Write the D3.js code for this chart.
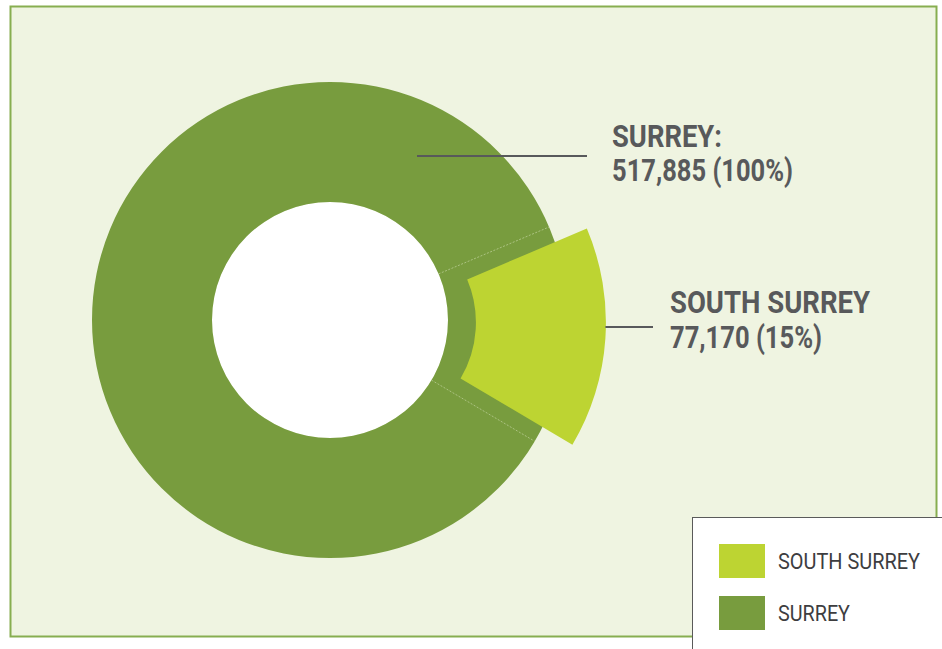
<!DOCTYPE html>
<html>
<head>
<meta charset="utf-8">
<script src="https://cdn.jsdelivr.net/npm/d3@7"></script>
<style>
  html, body { margin: 0; padding: 0; background: #ffffff; }
  svg { display: block; }
  .cond { font-family: "Roboto", "Liberation Sans", sans-serif; }
</style>
</head>
<body>
<svg id="chart" width="942" height="649"></svg>
<script>
// ---- data ----
const categories = ["SOUTH SURREY", "SURREY"];
const populations = [77170, 517885];
const shareLabels = ["15%", "100%"];
const legendLabels = ["SOUTH SURREY", "SURREY"];

const colors = { "SOUTH SURREY": "#BDD432", "SURREY": "#789C3E" };
const textColor = "#58595B";

const svg = d3.select("#chart");

function fitWidth(sel, w) {
  sel.attr("textLength", w).attr("lengthAdjust", "spacingAndGlyphs");
}

// frame
svg.append("rect").attr("x", 10.5).attr("y", 6.5).attr("width", 926).attr("height", 630)
  .attr("fill", "#EFF4E1").attr("stroke", "#87AE50").attr("stroke-width", 2);

const cx = 330, cy = 320;
const rIn = 118, rOut = 238;
const g = svg.append("g").attr("transform", `translate(${cx},${cy})`);

const total = populations[1];
const southVal = populations[0];
const pieData = [
  { name: categories[0], value: southVal },
  { name: "REST", value: total - southVal }
];
const startDeg = 67;
const pie = d3.pie().value(d => d.value).sort(null)
  .startAngle(startDeg * Math.PI / 180)
  .endAngle((startDeg + 360) * Math.PI / 180);
const arcs = pie(pieData);

// white hole
g.append("circle").attr("r", rIn).attr("fill", "#ffffff");

// full Surrey ring (100%)
const ringArc = d3.arc().innerRadius(rIn).outerRadius(rOut);
g.append("path")
  .attr("d", ringArc({ startAngle: 0, endAngle: 2 * Math.PI }))
  .attr("fill", colors["SURREY"]);

// faint separator lines at South Surrey slice boundaries
const south = arcs[0];
[south.startAngle, south.endAngle].forEach(a => {
  const s = Math.sin(a), c = -Math.cos(a);
  g.append("line")
    .attr("x1", s * rIn).attr("y1", c * rIn)
    .attr("x2", s * rOut).attr("y2", c * rOut)
    .attr("stroke", "#C9D9A8").attr("stroke-width", 0.8)
    .attr("stroke-dasharray", "2,1.5").attr("opacity", 0.8);
});

// exploded South Surrey slice
const mid = (south.startAngle + south.endAngle) / 2;
const explode = 36;
const ex = Math.sin(mid) * explode, ey = -Math.cos(mid) * explode;
const southArc = d3.arc().innerRadius(110).outerRadius(240);
g.append("path")
  .attr("d", southArc(south))
  .attr("transform", `translate(${ex},${ey})`)
  .attr("fill", colors["SOUTH SURREY"]);

// labels
const fmt = d3.format(",");
const lab = svg.append("g").attr("class", "cond")
  .attr("fill", textColor).attr("font-weight", "bold").attr("font-size", 31);

svg.append("line").attr("x1", 417).attr("x2", 587).attr("y1", 156).attr("y2", 156)
  .attr("stroke", textColor).attr("stroke-width", 2.2);
fitWidth(lab.append("text").attr("x", 612).attr("y", 147).text(categories[1] + ":"), 110);
fitWidth(lab.append("text").attr("x", 612).attr("y", 181).text(`${fmt(populations[1])} (${shareLabels[1]})`), 181);

const outerX = 330 + ex + Math.sin(mid) * 240;
svg.append("line").attr("x1", outerX).attr("x2", 653).attr("y1", 327).attr("y2", 327)
  .attr("stroke", textColor).attr("stroke-width", 2.2);
fitWidth(lab.append("text").attr("x", 670).attr("y", 313).text(categories[0]), 200);
fitWidth(lab.append("text").attr("x", 670).attr("y", 348).text(`${fmt(populations[0])} (${shareLabels[0]})`), 152);

// legend
const legendWidths = [142, 72];
const leg = svg.append("g");
leg.append("rect").attr("x", 692.5).attr("y", 517.5).attr("width", 260).attr("height", 140)
  .attr("fill", "#ffffff").attr("stroke", "#5a5a5a").attr("stroke-width", 1);
legendLabels.forEach((name, i) => {
  const y0 = 544 + i * 52;
  leg.append("rect").attr("x", 719).attr("y", y0).attr("width", 46).attr("height", 34)
    .attr("fill", colors[name]);
  const t = leg.append("text").attr("class", "cond").attr("x", 778).attr("y", y0 + 25)
    .attr("font-size", 22).attr("font-weight", 400).attr("fill", "#3d3d3f").text(name);
  fitWidth(t, legendWidths[i]);
});
</script>
</body>
</html>
